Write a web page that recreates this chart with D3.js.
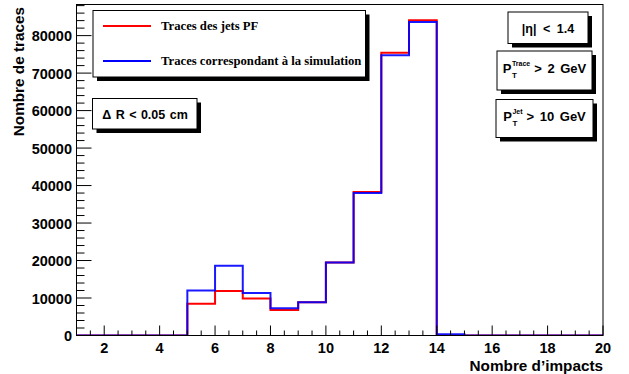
<!DOCTYPE html>
<html>
<head>
<meta charset="utf-8">
<script src="https://cdn.jsdelivr.net/npm/d3@7"></script>
<style>
  html, body { margin: 0; padding: 0; background: #fff; }
  svg { display: block; }
  .tick-label { font-family: "Liberation Sans", Arial, sans-serif; font-weight: bold; font-size: 14.5px; fill: #000; }
  .axis-title { font-family: "Liberation Sans", Arial, sans-serif; font-weight: bold; font-size: 15.3px; fill: #000; }
  .leg { font-family: "Liberation Serif", "Times New Roman", serif; font-weight: bold; font-size: 12.7px; fill: #000; }
  .box { font-family: "Liberation Sans", Arial, sans-serif; font-weight: bold; font-size: 12.5px; fill: #000; }
</style>
</head>
<body>
<svg id="c" width="629" height="374"></svg>
<script>
// Number of hits per track, integer bins from 1 to 20
const binEdges = [1,2,3,4,5,6,7,8,9,10,11,12,13,14,15,16,17,18,19,20];
const pfTracks  = [0,0,0,0,8450,11900,9850,6800,8850,19500,38250,75450,84100,0,0,0,0,0,0];
const simTracks = [0,0,0,0,12000,18600,11350,7250,8900,19500,38000,74750,83650,350,0,0,0,0,0];
const xTickValues = [2,4,6,8,10,12,14,16,18,20];
const yTickValues = [0,10000,20000,30000,40000,50000,60000,70000,80000];
const seriesNames = ["Traces des jets PF", "Traces correspondant à la simulation"];
const seriesColors = ["#ff0000", "#0000ff"];

const svg = d3.select("#c");
const frame = { left: 76.5, right: 603, top: 4.5, bottom: 335.5 };

const x = d3.scaleLinear().domain([1, 20]).range([frame.left, frame.right]);
const y = d3.scaleLinear().domain([0, 88300]).range([frame.bottom, frame.top]);

// clip for histogram lines
svg.append("defs").append("clipPath").attr("id", "fr")
  .append("rect").attr("x", frame.left).attr("y", frame.top - 2)
  .attr("width", frame.right - frame.left).attr("height", frame.bottom - frame.top + 2);

// histograms as step lines
const stepLine = d3.line().x(d => x(d[0])).y(d => y(d[1])).curve(d3.curveStepAfter);
function stepPoints(vals) {
  const pts = vals.map((v, i) => [binEdges[i], v]);
  pts.push([binEdges[vals.length], vals[vals.length - 1]]);
  return pts;
}
const g = svg.append("g").attr("clip-path", "url(#fr)");
[pfTracks, simTracks].forEach((vals, i) => {
  g.append("path").attr("d", stepLine(stepPoints(vals)))
    .attr("fill", "none").attr("stroke", seriesColors[i]).attr("stroke-width", 2)
    .attr("stroke-opacity", i === 1 ? 0.9 : 1);
});

// frame
svg.append("rect").attr("x", frame.left).attr("y", frame.top)
  .attr("width", frame.right - frame.left).attr("height", frame.bottom - frame.top)
  .attr("fill", "none").attr("stroke", "#000").attr("stroke-width", 1);

// x axis ticks
const xMinor = d3.range(1, 20.001, 0.5);
svg.append("g").selectAll("line").data(xMinor).join("line")
  .attr("x1", d => x(d)).attr("x2", d => x(d))
  .attr("y1", frame.bottom).attr("y2", d => frame.bottom - (xTickValues.includes(d) ? 10 : 5))
  .attr("stroke", "#000").attr("stroke-width", 1);
svg.append("g").selectAll("text").data(xTickValues).join("text")
  .attr("class", "tick-label").attr("x", d => x(d)).attr("y", 353)
  .attr("text-anchor", "middle").text(d => d);

// y axis ticks
const yMinor = d3.range(0, 88001, 2000);
svg.append("g").selectAll("line").data(yMinor).join("line")
  .attr("y1", d => y(d)).attr("y2", d => y(d))
  .attr("x1", frame.left).attr("x2", d => frame.left + (d % 10000 === 0 ? 15 : 8))
  .attr("stroke", "#000").attr("stroke-width", 1);
svg.append("g").selectAll("text").data(yTickValues).join("text")
  .attr("class", "tick-label").attr("x", 72).attr("y", d => y(d) + 5.5)
  .attr("text-anchor", "end").text(d => d);

// axis titles
svg.append("text").attr("class", "axis-title")
  .attr("x", frame.right).attr("y", 370.5).attr("text-anchor", "end")
  .text("Nombre d\u2019impacts");
svg.append("text").attr("class", "axis-title")
  .attr("transform", `translate(23.5,${frame.top + 2.5}) rotate(-90)`)
  .attr("text-anchor", "end").text("Nombre de traces");

// boxed panes with drop shadow
function pane(x0, y0, w, h) {
  svg.append("rect").attr("x", x0 + 4).attr("y", y0 + 4).attr("width", w).attr("height", h).attr("fill", "#000");
  svg.append("rect").attr("x", x0).attr("y", y0).attr("width", w).attr("height", h)
    .attr("fill", "#fff").attr("stroke", "#000").attr("stroke-width", 1);
}

// legend
pane(93, 10.5, 272.5, 66.5);
seriesNames.forEach((name, i) => {
  const ly = 26 + i * 35;
  svg.append("line").attr("x1", 103).attr("x2", 151).attr("y1", ly).attr("y2", ly)
    .attr("stroke", seriesColors[i]).attr("stroke-width", 2);
  svg.append("text").attr("class", "leg").attr("x", 161).attr("y", ly + 4).text(name);
});

// selection cut panes
pane(92.5, 98.5, 104.5, 30.5);
svg.append("text").attr("class", "box").attr("x", 145).attr("y", 118.5)
  .attr("text-anchor", "middle").style("word-spacing", "1px").text("\u0394 R < 0.05 cm");

pane(508, 12, 80, 31.5);
svg.append("text").attr("class", "box").attr("x", 548).attr("y", 33)
  .attr("text-anchor", "middle").style("word-spacing", "3px").text("|\u03b7| < 1.4");

// transverse momentum label: P with subscript T and a superscript tag
function ptPane(x0, y0, w, h, sup, rest) {
  pane(x0, y0, w, h);
  const grp = svg.append("g");
  const base = y0 + h / 2 + 2.5;
  const p = grp.append("text").attr("class", "box").style("font-size", "13px").attr("x", 0).attr("y", base).text("P");
  const pw = p.node().getComputedTextLength() + 0.5;
  const s = grp.append("text").attr("class", "box").style("font-size", "7px")
    .attr("x", pw).attr("y", base - 7).text(sup);
  const sub = grp.append("text").attr("class", "box").style("font-size", "8px")
    .attr("x", pw).attr("y", base + 4.5).text("T");
  const sw = Math.max(s.node().getComputedTextLength(), sub.node().getComputedTextLength());
  const r = grp.append("text").attr("class", "box").style("font-size", "13px")
    .attr("x", pw + sw + 4).attr("y", base).style("word-spacing", "2px").text(rest);
  const total = pw + sw + 4 + r.node().getComputedTextLength();
  grp.attr("transform", `translate(${x0 + (w - total) / 2},0)`);
}
ptPane(497, 51, 95, 39, "Trace", "> 2 GeV");
ptPane(496, 99.5, 97, 38, "Jet", "> 10 GeV");
</script>
</body>
</html>
